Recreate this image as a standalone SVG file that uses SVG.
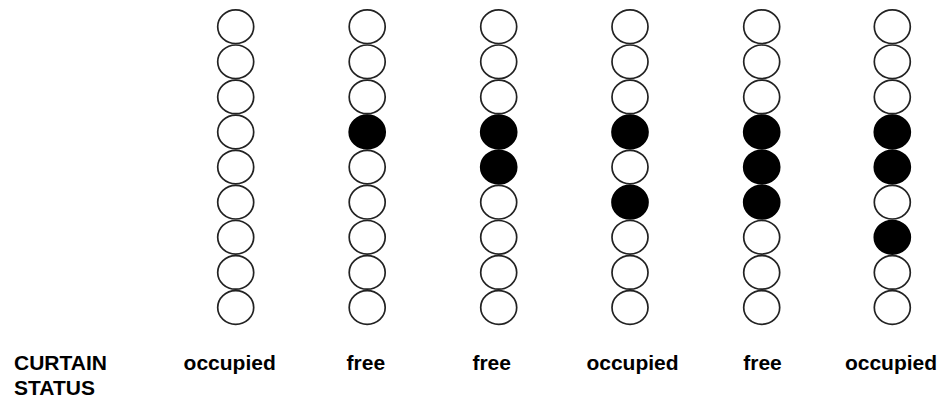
<svg xmlns="http://www.w3.org/2000/svg" width="943" height="398" viewBox="0 0 943 398">
<style>
.o{fill:#fff;stroke:#222;stroke-width:1.7}
.f{fill:#000;stroke:#000;stroke-width:1.7}
.t{font-family:"Liberation Sans",Arial,sans-serif;font-weight:bold;font-size:21px;fill:#000}
.c{text-anchor:middle}
</style>
<defs>
<ellipse id="e" cx="0" cy="0" rx="18" ry="16.8"/>
</defs>
<rect width="943" height="398" fill="#fff"/>
<g id="column1" transform="translate(235.7,0)">
<use href="#e" class="o" y="26.7"/><use href="#e" class="o" y="61.8"/><use href="#e" class="o" y="96.9"/><use href="#e" class="o" y="132"/><use href="#e" class="o" y="167.1"/><use href="#e" class="o" y="202.2"/><use href="#e" class="o" y="237.3"/><use href="#e" class="o" y="272.4"/><use href="#e" class="o" y="307.5"/>
</g>
<g id="column2" transform="translate(367.2,0)">
<use href="#e" class="o" y="26.7"/><use href="#e" class="o" y="61.8"/><use href="#e" class="o" y="96.9"/><use href="#e" class="f" y="132"/><use href="#e" class="o" y="167.1"/><use href="#e" class="o" y="202.2"/><use href="#e" class="o" y="237.3"/><use href="#e" class="o" y="272.4"/><use href="#e" class="o" y="307.5"/>
</g>
<g id="column3" transform="translate(498.7,0)">
<use href="#e" class="o" y="26.7"/><use href="#e" class="o" y="61.8"/><use href="#e" class="o" y="96.9"/><use href="#e" class="f" y="132"/><use href="#e" class="f" y="167.1"/><use href="#e" class="o" y="202.2"/><use href="#e" class="o" y="237.3"/><use href="#e" class="o" y="272.4"/><use href="#e" class="o" y="307.5"/>
</g>
<g id="column4" transform="translate(630,0)">
<use href="#e" class="o" y="26.7"/><use href="#e" class="o" y="61.8"/><use href="#e" class="o" y="96.9"/><use href="#e" class="f" y="132"/><use href="#e" class="o" y="167.1"/><use href="#e" class="f" y="202.2"/><use href="#e" class="o" y="237.3"/><use href="#e" class="o" y="272.4"/><use href="#e" class="o" y="307.5"/>
</g>
<g id="column5" transform="translate(761.7,0)">
<use href="#e" class="o" y="26.7"/><use href="#e" class="o" y="61.8"/><use href="#e" class="o" y="96.9"/><use href="#e" class="f" y="132"/><use href="#e" class="f" y="167.1"/><use href="#e" class="f" y="202.2"/><use href="#e" class="o" y="237.3"/><use href="#e" class="o" y="272.4"/><use href="#e" class="o" y="307.5"/>
</g>
<g id="column6" transform="translate(892.3,0)">
<use href="#e" class="o" y="26.7"/><use href="#e" class="o" y="61.8"/><use href="#e" class="o" y="96.9"/><use href="#e" class="f" y="132"/><use href="#e" class="f" y="167.1"/><use href="#e" class="o" y="202.2"/><use href="#e" class="f" y="237.3"/><use href="#e" class="o" y="272.4"/><use href="#e" class="o" y="307.5"/>
</g>
<g id="connectors"/>
<g id="labels">
<text class="t" x="14" y="370">CURTAIN</text>
<text class="t" x="14" y="395">STATUS</text>
<text class="t c" x="229.7" y="370">occupied</text>
<text class="t c" x="365.8" y="370">free</text>
<text class="t c" x="491.7" y="370">free</text>
<text class="t c" x="632.5" y="370">occupied</text>
<text class="t c" x="762.5" y="370">free</text>
<text class="t c" x="891" y="370">occupied</text>
</g>
</svg>
